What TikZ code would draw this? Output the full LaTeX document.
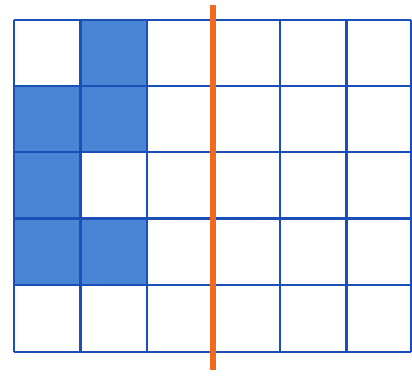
\documentclass[tikz,border=0pt]{standalone}
\definecolor{gridblue}{HTML}{1A4FB8}
\definecolor{fillblue}{HTML}{4A84D4}
\definecolor{cut}{HTML}{F26A22}
\tikzset{gridline/.style={draw=gridblue,line width=2.4pt},
cell/.style={fill=fillblue},
cutline/.style={draw=cut,line width=6.5pt}}
\begin{document}
\begin{tikzpicture}[x=1pt,y=-1pt]
\useasboundingbox (0,0) rectangle (412,375);
% filled cells
\fill[cell] (80.5,20) rectangle (147,86);
\fill[cell] (14,86) rectangle (80.5,152);
\fill[cell] (80.5,86) rectangle (147,152);
\fill[cell] (14,152) rectangle (80.5,218.5);
\fill[cell] (14,218.5) rectangle (80.5,285);
\fill[cell] (80.5,218.5) rectangle (147,285);
% grid
\foreach \x in {14,80.5,147,213.5,280,346.5,411}
  \draw[gridline] (\x,20) -- (\x,352);
\foreach \y in {20,86,152,218.5,285,352}
  \draw[gridline] (14,\y) -- (411,\y);
% cut line
\coordinate (ctop) at (213,5);
\coordinate (cbot) at (213,370);
\draw[cutline] (ctop) -- (cbot);
\end{tikzpicture}
\end{document}
